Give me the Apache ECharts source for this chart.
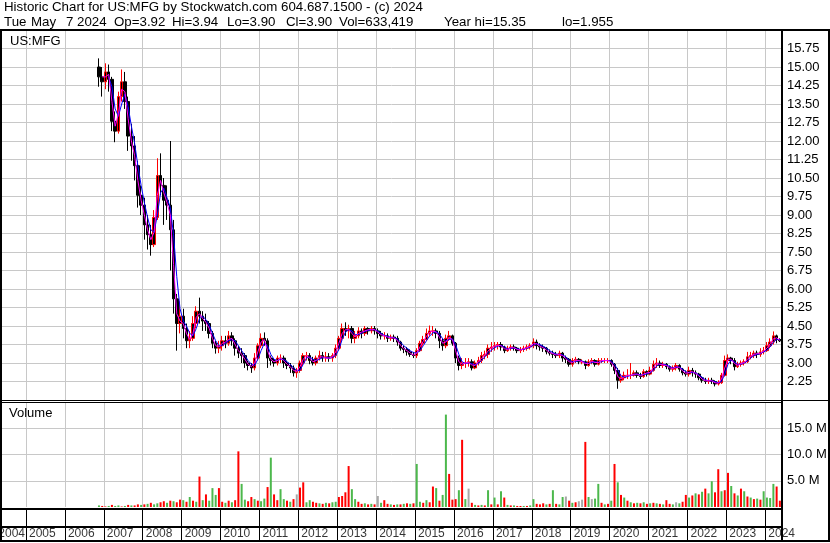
<!DOCTYPE html>
<html>
<head>
<meta charset="utf-8">
<title>Historic Chart for US:MFG</title>
<script src="https://cdn.jsdelivr.net/npm/echarts@6/dist/echarts.min.js"></script>
<style>
  html, body { margin: 0; padding: 0; background: #fff; }
  #chart { width: 830px; height: 543px; }
</style>
</head>
<body>
<div id="chart"></div>
<script>
// monthly bars, first one is Nov 2006
const firstYear = 2006
const firstMonth = 10

// [open, close, low, high]
const ohlc = [
  [15.0,14.6,14.2,15.35],[14.6,14.4,13.8,15.0],
  [14.4,14.8,14.1,15.15],[14.8,14.5,14.0,15.1],[14.5,12.8,12.4,14.6],[12.8,12.4,11.95,13.2],[12.4,13.8,12.3,14.0],[13.8,14.4,13.6,14.9],[14.4,13.6,13.3,14.8],[13.6,12.2,11.6,13.8],[12.2,11.8,11.2,12.7],[11.8,11.0,10.4,12.2],[11.0,9.8,9.3,11.2],[9.8,9.4,9.0,10.2],
  [9.4,8.6,8.0,9.7],[8.6,8.2,7.6,9.0],[8.2,7.8,7.35,8.6],[7.8,8.9,7.7,9.2],[8.9,10.6,8.8,11.3],[10.6,10.2,9.8,11.5],[10.2,9.6,8.6,10.5],[9.6,9.4,8.8,10.2],[9.4,8.4,6.75,12.0],[8.4,5.6,5.0,8.8],[5.6,4.6,3.5,5.8],[4.6,4.9,4.2,5.5],
  [4.9,4.4,4.0,5.2],[4.4,3.9,3.6,4.6],[3.9,4.0,3.6,4.3],[4.0,4.6,3.9,4.9],[4.6,5.1,4.4,5.3],[5.1,4.9,4.6,5.65],[4.9,4.7,4.3,5.1],[4.7,4.6,4.3,5.0],[4.6,4.2,4.0,4.7],[4.2,3.8,3.6,4.3],[3.8,3.6,3.38,3.9],[3.6,3.7,3.4,3.9],
  [3.7,3.9,3.5,4.1],[3.9,3.8,3.6,4.1],[3.8,4.1,3.7,4.3],[4.1,3.9,3.7,4.25],[3.9,3.6,3.3,4.0],[3.6,3.4,3.2,3.7],[3.4,3.3,3.0,3.6],[3.3,3.0,2.8,3.4],[3.0,2.9,2.7,3.1],[2.9,2.8,2.6,3.0],[2.8,3.2,2.7,3.4],[3.2,3.7,3.1,3.8],
  [3.7,4.0,3.6,4.2],[4.0,3.9,3.7,4.24],[3.9,3.2,2.8,4.0],[3.2,3.1,2.9,3.3],[3.1,3.0,2.85,3.2],[3.0,3.2,2.9,3.3],[3.2,3.2,3.0,3.35],[3.2,3.0,2.8,3.3],[3.0,2.9,2.75,3.1],[2.9,2.8,2.6,3.0],[2.8,2.6,2.45,2.9],[2.6,2.7,2.4,2.8],
  [2.7,3.0,2.6,3.1],[3.0,3.3,2.9,3.4],[3.3,3.3,3.1,3.45],[3.3,3.1,2.95,3.4],[3.1,3.0,2.9,3.25],[3.0,3.2,2.9,3.3],[3.2,3.3,3.1,3.5],[3.3,3.2,3.05,3.45],[3.2,3.25,3.05,3.45],[3.25,3.2,3.05,3.4],[3.2,3.3,3.05,3.4],[3.3,3.6,3.2,3.75],
  [3.6,4.0,3.5,4.1],[4.0,4.4,3.9,4.6],[4.4,4.3,4.1,4.65],[4.3,4.4,4.0,4.55],[4.4,4.0,3.8,4.5],[4.0,4.1,3.8,4.3],[4.1,4.3,4.0,4.45],[4.3,4.2,4.0,4.4],[4.2,4.4,4.1,4.5],[4.4,4.3,4.15,4.45],[4.3,4.4,4.2,4.5],[4.4,4.3,4.15,4.5],
  [4.3,4.2,4.0,4.4],[4.2,4.1,3.95,4.3],[4.1,4.1,3.95,4.25],[4.1,4.0,3.85,4.2],[4.0,4.05,3.9,4.15],[4.05,4.0,3.85,4.15],[4.0,3.85,3.7,4.1],[3.85,3.6,3.5,3.9],[3.6,3.55,3.4,3.7],[3.55,3.45,3.3,3.65],[3.45,3.35,3.25,3.55],[3.35,3.3,3.2,3.45],
  [3.3,3.5,3.2,3.6],[3.5,3.8,3.45,3.9],[3.8,3.95,3.7,4.1],[3.95,4.2,3.9,4.4],[4.2,4.3,4.1,4.52],[4.3,4.3,4.1,4.5],[4.3,4.2,4.0,4.4],[4.2,3.9,3.6,4.3],[3.9,3.7,3.5,4.0],[3.7,4.0,3.6,4.15],[4.0,4.1,3.9,4.3],[4.1,3.8,3.7,4.15],
  [3.8,3.2,3.0,3.85],[3.2,2.9,2.7,3.3],[2.9,3.0,2.75,3.2],[3.0,3.0,2.8,3.2],[3.0,3.05,2.85,3.2],[3.05,2.8,2.7,3.15],[2.8,3.0,2.75,3.1],[3.0,3.1,2.9,3.25],[3.1,3.3,3.0,3.45],[3.3,3.35,3.15,3.5],[3.35,3.6,3.2,3.75],[3.6,3.65,3.45,3.85],
  [3.65,3.7,3.5,3.85],[3.7,3.75,3.55,3.85],[3.75,3.65,3.5,3.85],[3.65,3.5,3.4,3.7],[3.5,3.6,3.45,3.7],[3.6,3.65,3.5,3.75],[3.65,3.6,3.5,3.75],[3.6,3.5,3.4,3.65],[3.5,3.55,3.4,3.65],[3.55,3.6,3.45,3.7],[3.6,3.65,3.5,3.75],[3.65,3.7,3.55,3.8],
  [3.7,3.85,3.6,4.0],[3.85,3.7,3.55,3.95],[3.7,3.65,3.5,3.8],[3.65,3.6,3.45,3.75],[3.6,3.45,3.35,3.65],[3.45,3.4,3.3,3.55],[3.4,3.35,3.2,3.5],[3.35,3.3,3.2,3.45],[3.3,3.4,3.2,3.5],[3.4,3.2,3.05,3.45],[3.2,3.15,3.0,3.3],[3.15,2.95,2.85,3.2],
  [2.95,3.1,2.85,3.2],[3.1,3.15,3.0,3.25],[3.15,3.05,2.95,3.2],[3.05,3.05,2.95,3.15],[3.05,2.9,2.75,3.1],[2.9,3.05,2.85,3.15],[3.05,3.1,2.95,3.2],[3.1,2.95,2.85,3.15],[2.95,3.1,2.9,3.2],[3.1,3.1,3.0,3.2],[3.1,3.1,3.0,3.2],[3.1,3.1,3.0,3.2],
  [3.1,2.95,2.85,3.15],[2.95,2.7,2.55,3.0],[2.7,2.3,1.955,2.8],[2.3,2.4,2.2,2.55],[2.4,2.5,2.3,2.65],[2.5,2.5,2.35,2.75],[2.5,2.5,2.35,3.0],[2.5,2.6,2.45,2.7],[2.6,2.5,2.4,2.7],[2.5,2.45,2.35,2.6],[2.45,2.65,2.4,2.75],[2.65,2.55,2.45,2.7],
  [2.55,2.7,2.5,2.85],[2.7,2.95,2.65,3.1],[2.95,3.0,2.8,3.2],[3.0,2.9,2.8,3.1],[2.9,2.95,2.8,3.05],[2.95,2.85,2.75,3.0],[2.85,2.75,2.65,2.9],[2.75,2.8,2.65,2.9],[2.8,2.9,2.7,3.0],[2.9,2.75,2.65,2.95],[2.75,2.6,2.5,2.8],[2.6,2.55,2.45,2.7],
  [2.55,2.7,2.45,2.85],[2.7,2.6,2.45,2.8],[2.6,2.55,2.4,2.7],[2.55,2.4,2.3,2.6],[2.4,2.3,2.2,2.45],[2.3,2.25,2.15,2.4],[2.25,2.3,2.15,2.4],[2.3,2.25,2.15,2.4],[2.25,2.15,2.05,2.3],[2.15,2.2,2.09,2.3],[2.2,2.5,2.15,2.6],[2.5,3.1,2.45,3.3],
  [3.1,3.2,2.95,3.35],[3.2,3.1,2.95,3.25],[3.1,2.85,2.7,3.2],[2.85,2.95,2.8,3.05],[2.95,3.0,2.85,3.1],[3.0,3.05,2.9,3.15],[3.05,3.25,3.0,3.45],[3.25,3.3,3.15,3.45],[3.3,3.4,3.2,3.5],[3.4,3.35,3.2,3.5],[3.35,3.45,3.25,3.6],[3.45,3.5,3.35,3.65],
  [3.5,3.7,3.45,3.85],[3.7,3.85,3.6,4.0],[3.85,4.1,3.75,4.28],[4.1,3.95,3.8,4.15],[3.95,3.9,3.85,4.0]
]

// magenta average, starts Dec 2006
const maFast = [
  14.6,
  14.6, 14.7, 13.6, 12.6, 13.1, 14.1, 14.0, 12.9, 12.0, 11.4, 10.4, 9.6,
  9.0, 8.4, 8.0, 8.3, 9.8, 10.4, 9.9, 9.5, 9.0, 7.0, 5.0, 4.7,
  4.6, 4.2, 3.95, 4.2, 4.85, 5.0, 4.8, 4.65, 4.4, 4.0, 3.7, 3.65,
  3.8, 3.85, 3.95, 4.0, 3.75, 3.5, 3.35, 3.15, 2.95, 2.85, 3.0, 3.45,
  3.85, 3.95, 3.5, 3.15, 3.05, 3.1, 3.2, 3.1, 2.95, 2.85, 2.7, 2.65,
  2.85, 3.15, 3.3, 3.2, 3.05, 3.1, 3.25, 3.25, 3.2, 3.2, 3.25, 3.45,
  3.8, 4.2, 4.35, 4.35, 4.2, 4.05, 4.2, 4.25, 4.3, 4.35, 4.35, 4.35,
  4.25, 4.15, 4.1, 4.05, 4.02, 4.02, 3.92, 3.72, 3.58, 3.5, 3.4, 3.32,
  3.4, 3.65, 3.88, 4.08, 4.25, 4.3, 4.25, 4.05, 3.8, 3.85, 4.05, 3.95,
  3.5, 3.05, 2.95, 3.0, 3.02, 2.92, 2.9, 3.05, 3.2, 3.32, 3.48, 3.62,
  3.68, 3.72, 3.7, 3.58, 3.55, 3.62, 3.62, 3.55, 3.52, 3.58, 3.62, 3.68,
  3.78, 3.78, 3.68, 3.62, 3.52, 3.42, 3.38, 3.32, 3.35, 3.3, 3.18, 3.05,
  3.02, 3.12, 3.1, 3.05, 2.98, 2.98, 3.08, 3.02, 3.02, 3.1, 3.1, 3.1,
  3.02, 2.82, 2.45, 2.35, 2.45, 2.5, 2.5, 2.55, 2.55, 2.48, 2.55, 2.6,
  2.62, 2.82, 2.98, 2.95, 2.92, 2.9, 2.8, 2.78, 2.85, 2.82, 2.68, 2.58,
  2.62, 2.65, 2.58, 2.48, 2.35, 2.28, 2.28, 2.28, 2.2, 2.18, 2.35, 2.8,
  3.15, 3.15, 2.98, 2.9, 2.98, 3.02, 3.15, 3.28, 3.35, 3.38, 3.4, 3.48,
  3.6, 3.78, 3.98, 4.02, 3.92
]

// blue average, starts Feb 2007
const maSlow = [
  14.6, 14.2, 13.3, 13.0, 13.5, 13.9, 13.4, 12.6, 11.9, 11.0, 10.2,
  9.5, 8.9, 8.4, 8.3, 9.0, 9.9, 10.1, 9.7, 9.3, 8.2, 6.5, 5.2,
  4.7, 4.5, 4.2, 4.1, 4.4, 4.8, 4.9, 4.75, 4.55, 4.2, 3.9, 3.7,
  3.7, 3.8, 3.9, 3.95, 3.9, 3.7, 3.5, 3.3, 3.1, 2.95, 2.9, 3.15,
  3.5, 3.8, 3.7, 3.35, 3.15, 3.1, 3.15, 3.15, 3.05, 2.95, 2.8, 2.7,
  2.7, 2.95, 3.2, 3.25, 3.15, 3.1, 3.15, 3.22, 3.22, 3.2, 3.22, 3.3,
  3.55, 3.95, 4.25, 4.35, 4.3, 4.15, 4.15, 4.2, 4.28, 4.32, 4.35, 4.35,
  4.3, 4.2, 4.12, 4.08, 4.04, 4.03, 3.98, 3.85, 3.7, 3.6, 3.5, 3.42,
  3.4, 3.5, 3.7, 3.9, 4.1, 4.22, 4.28, 4.18, 3.98, 3.88, 3.95, 3.98,
  3.75, 3.35, 3.05, 2.98, 3.0, 2.98, 2.92, 2.98, 3.1, 3.25, 3.38, 3.52,
  3.62, 3.68, 3.72, 3.65, 3.58, 3.58, 3.62, 3.58, 3.55, 3.55, 3.6, 3.65,
  3.72, 3.78, 3.75, 3.68, 3.6, 3.5, 3.42, 3.36, 3.35, 3.33, 3.25, 3.12,
  3.05, 3.05, 3.1, 3.08, 3.02, 2.98, 3.02, 3.05, 3.03, 3.05, 3.1, 3.1,
  3.08, 2.95, 2.72, 2.48, 2.42, 2.45, 2.5, 2.52, 2.55, 2.52, 2.52, 2.57,
  2.6, 2.7, 2.88, 2.95, 2.95, 2.92, 2.86, 2.8, 2.82, 2.84, 2.75, 2.65,
  2.6, 2.62, 2.6, 2.52, 2.42, 2.32, 2.28, 2.28, 2.24, 2.2, 2.25, 2.55,
  2.95, 3.12, 3.05, 2.95, 2.95, 3.0, 3.08, 3.2, 3.3, 3.35, 3.38, 3.45,
  3.52, 3.65, 3.85, 3.95, 3.95
]

// volume in millions, starts Nov 2006
const volume = [
  0.3, 0.2,
  0.1, 0.2, 0.4, 0.2, 0.3, 0.1, 0.2, 0.4, 0.3, 0.3, 0.5, 0.4,
  0.5, 0.6, 0.8, 0.5, 0.7, 0.9, 1.1, 0.8, 1.2, 1.1, 0.9, 1.4,
  1.3, 1.0, 1.9, 1.2, 1.0, 5.8, 1.3, 2.4, 1.2, 3.6, 2.3, 3.6,
  1.0, 0.8, 1.2, 0.9, 1.3, 10.6, 4.4, 1.4, 1.1, 1.9, 1.5, 1.2,
  1.1, 1.6, 3.8, 9.4, 2.4, 1.3, 3.4, 1.5, 1.2, 1.0, 1.5, 2.4,
  3.7, 4.7, 0.9, 1.3, 1.0, 0.8, 0.7, 0.6, 0.8, 0.7, 0.9, 1.0,
  1.9, 2.1, 2.8, 7.8, 3.4, 1.5, 1.0, 0.6, 0.7, 0.5, 0.6, 0.5,
  2.1, 0.8, 1.3, 0.6, 0.5, 0.4, 0.5, 0.5, 0.6, 0.7, 0.6, 0.7,
  8.2, 1.0, 0.8, 1.3, 0.9, 3.9, 3.6, 1.2, 2.3, 17.6, 6.3, 1.4,
  1.5, 3.2, 12.8, 1.5, 3.5, 0.8, 0.4, 0.3, 0.4, 0.3, 3.2, 0.5,
  1.8, 0.5, 3.0, 1.8, 0.4, 0.3, 0.3, 0.2, 0.2, 0.2, 0.2, 0.3,
  1.5, 0.6, 0.5, 0.7, 0.5, 0.6, 3.2, 0.6, 0.5, 1.9, 2.0, 1.2,
  0.8, 0.9, 1.1, 1.4, 12.4, 1.9, 1.5, 1.6, 4.4, 0.8, 0.5, 0.6,
  1.2, 8.2, 4.7, 2.3, 1.8, 1.2, 0.9, 0.7, 0.8, 0.7, 0.9, 0.6,
  0.7, 0.8, 0.7, 0.6, 0.5, 1.3, 0.6, 0.5, 0.9, 0.7, 1.0, 2.3,
  1.8, 2.2, 2.6, 2.4, 2.9, 3.5, 2.6, 4.9, 2.8, 7.2, 3.0, 3.2,
  6.5, 4.0, 2.6, 2.2, 3.5, 3.0, 2.0, 1.8, 1.5, 1.6, 1.4, 3.0,
  1.8, 1.7, 4.4, 3.9, 1.2
]

// 1 up, -1 down, 0 unchanged
const volDir = [
  1, -1,
  -1, 1, -1, 1, 1, -1, 1, -1, 1, -1, -1, 1,
  -1, 1, -1, 1, 1, -1, -1, 1, -1, 1, -1, -1,
  1, -1, 1, -1, 1, -1, 1, -1, 1, 1, 1, -1,
  -1, 1, -1, 1, -1, -1, 1, 1, -1, -1, 1, -1,
  1, 1, -1, 1, -1, -1, 1, 1, -1, 1, -1, 0,
  -1, -1, 1, 1, -1, -1, 1, -1, 1, -1, 1, 1,
  -1, -1, -1, -1, 1, 1, -1, -1, 1, -1, 1, -1,
  0, 1, -1, -1, 1, -1, 1, -1, 1, -1, 1, -1,
  1, 1, -1, 1, -1, -1, 1, -1, 1, 1, -1, -1,
  -1, 1, -1, 1, 0, -1, 1, -1, 1, -1, 1, -1,
  1, -1, 1, -1, 1, -1, 1, -1, -1, 1, -1, 1,
  1, -1, -1, -1, 1, -1, 1, -1, 1, 1, 0, -1,
  1, -1, 0, 0, -1, 1, 0, 1, 1, -1, 1, -1,
  1, -1, 1, -1, 1, -1, 1, -1, 1, -1, 1, -1,
  1, -1, 1, -1, 1, -1, -1, 1, 0, 1, -1, -1,
  1, -1, 1, -1, 1, -1, 1, 1, -1, -1, 1, -1,
  -1, 1, -1, 1, -1, 1, -1, 1, -1, 1, -1, 1,
  1, 1, 1, -1, -1
]

const yearLabels = ['2004', '2005', '2006', '2007', '2008', '2009', '2010', '2011', '2012', '2013',
  '2014', '2015', '2016', '2017', '2018', '2019', '2020', '2021', '2022', '2023', '2024']

const headerLine1 = 'Historic Chart for US:MFG by Stockwatch.com 604.687.1500 - (c) 2024'
// second header line, one piece per field
const headerFields = ['Tue', 'May', '7', '2024', 'Op=3.92', 'Hi=3.94', 'Lo=3.90', 'Cl=3.90', 'Vol=633,419', 'Year hi=15.35', 'lo=1.955']
const headerFieldX = [4, 31, 66, 77, 114, 172, 227, 286, 339, 444, 562]
const symbolName = 'US:MFG'

// axis span in decimal years (mid May 2004 .. late May 2024)
const xMin = 2004.383
const xMax = 2024.404

const colors = {
  upBorder: '#ff0000',
  body: '#000000',
  fast: '#ff00ff',
  slow: '#0000ff',
  volUp: '#4cb84c',
  volDown: '#ff0000',
  volFlat: '#a8a8a8',
  grid: '#c8c8c8',
  text: '#000000',
}
const font = 'Liberation Sans, Arial, sans-serif'

function monthPos(i) {
  const m = firstMonth + i
  return firstYear + Math.floor(m / 12) + ((m % 12) + 0.5) / 12
}

const candleData = ohlc.map((r, i) => [monthPos(i), r[0], r[1], r[2], r[3]])
const fastData = maFast.map((v, i) => [monthPos(i + 1), v])
const slowData = maSlow.map((v, i) => [monthPos(i + 3), v])
const volData = volume.map((v, i) => [monthPos(i), v])

const yearData = yearLabels.map((t) => {
  const y = Number(t)
  if (y < xMin) {
    // first year only partly on the axis: hang its label off next year's line
    return { value: [y + 1, 0.22], name: t, label: { position: 'left', distance: 1 } }
  }
  return { value: [y, 0.22], name: t }
})

function xAxisFor(gridIndex, lineColor) {
  return {
    type: 'value',
    gridIndex,
    min: xMin,
    max: xMax,
    splitNumber: 20,
    minInterval: 1,
    maxInterval: 1,
    axisLine: { show: false },
    axisTick: { show: false },
    axisLabel: { show: false },
    splitLine: { show: true, showMinLine: false, showMaxLine: false, lineStyle: { color: lineColor, width: 1 } },
  }
}

function rect(x, y, w, h) {
  return { type: 'rect', shape: { x, y, width: w, height: h }, style: { fill: '#000' }, silent: true, z: 100 }
}

function text(str, x, y, size) {
  return {
    type: 'text', x, y, silent: true, z: 100,
    style: { text: str, fill: colors.text, font: size + 'px ' + font, verticalAlign: 'middle' },
  }
}

const chart = echarts.init(document.getElementById('chart'), null, { renderer: 'canvas' })

chart.setOption({
  animation: false,
  backgroundColor: '#ffffff',
  textStyle: { fontFamily: font },
  grid: [
    { left: 2, right: 49, top: 30, height: 370 },
    { left: 2, right: 49, top: 402, height: 105 },
    { left: 2, right: 49, top: 509, height: 32 },
  ],
  xAxis: [
    xAxisFor(0, colors.grid),
    xAxisFor(1, colors.grid),
    xAxisFor(2, '#000000'),
  ],
  yAxis: [
    {
      type: 'value', gridIndex: 0, position: 'right',
      min: 1.5, max: 16.5, interval: 0.75,
      axisLine: { show: false }, axisTick: { show: false },
      axisLabel: {
        margin: 6, color: colors.text, fontSize: 13, fontFamily: font,
        formatter: (v) => (v < 2 || v > 16 ? '' : v.toFixed(2)),
      },
      splitLine: { show: true, showMinLine: false, showMaxLine: false, lineStyle: { color: colors.grid } },
    },
    {
      type: 'value', gridIndex: 1, position: 'right',
      min: 0, max: 20, interval: 5,
      axisLine: { show: false }, axisTick: { show: false },
      axisLabel: {
        margin: 6, color: colors.text, fontSize: 13, fontFamily: font,
        formatter: (v) => (v <= 0 || v >= 20 ? '' : v.toFixed(1) + ' M'),
      },
      splitLine: { show: true, showMinLine: false, showMaxLine: false, lineStyle: { color: colors.grid } },
    },
    {
      type: 'value', gridIndex: 2, min: 0, max: 1, show: false,
    },
  ],
  series: [
    {
      name: 'price',
      type: 'candlestick',
      xAxisIndex: 0,
      yAxisIndex: 0,
      barWidth: 3,
      data: candleData,
      itemStyle: {
        color: colors.body, color0: colors.body,
        borderColor: colors.upBorder, borderColor0: colors.body, borderWidth: 1,
      },
      silent: true,
    },
    {
      name: 'slow',
      type: 'line',
      xAxisIndex: 0,
      yAxisIndex: 0,
      data: slowData,
      showSymbol: false,
      lineStyle: { color: colors.slow, width: 1 },
      silent: true,
    },
    {
      name: 'fast',
      type: 'line',
      xAxisIndex: 0,
      yAxisIndex: 0,
      data: fastData,
      showSymbol: false,
      lineStyle: { color: colors.fast, width: 1 },
      silent: true,
    },
    {
      name: 'volume',
      type: 'bar',
      xAxisIndex: 1,
      yAxisIndex: 1,
      barWidth: 2,
      data: volData,
      itemStyle: {
        color: (p) => {
          const d = volDir[p.dataIndex]
          return d > 0 ? colors.volUp : d < 0 ? colors.volDown : colors.volFlat
        },
      },
      silent: true,
    },
    {
      name: 'years',
      type: 'scatter',
      xAxisIndex: 2,
      yAxisIndex: 2,
      symbolSize: 0,
      clip: false,
      data: yearData,
      label: {
        show: true, position: 'right', distance: 3,
        formatter: (p) => p.name,
        color: colors.text, fontSize: 12, fontFamily: font,
      },
      silent: true,
    },
  ],
  graphic: [
    text(headerLine1, 4, 7.5, 13.3),
    ...headerFields.map((f, i) => text(f, headerFieldX[i], 22, 13.3)),
    text(symbolName, 10, 41.5, 13),
    text('Volume', 9, 413.5, 13),
    // frame
    rect(0, 29, 830, 2),
    rect(0, 29, 2, 513),
    rect(828, 29, 2, 513),
    rect(0, 540, 830, 2),
    rect(781, 29, 2, 513),
    rect(0, 400, 830, 1),
    rect(0, 402, 781, 1),
    rect(0, 508, 783, 2),
    rect(0, 526, 783, 2),
  ],
})
</script>
</body>
</html>
